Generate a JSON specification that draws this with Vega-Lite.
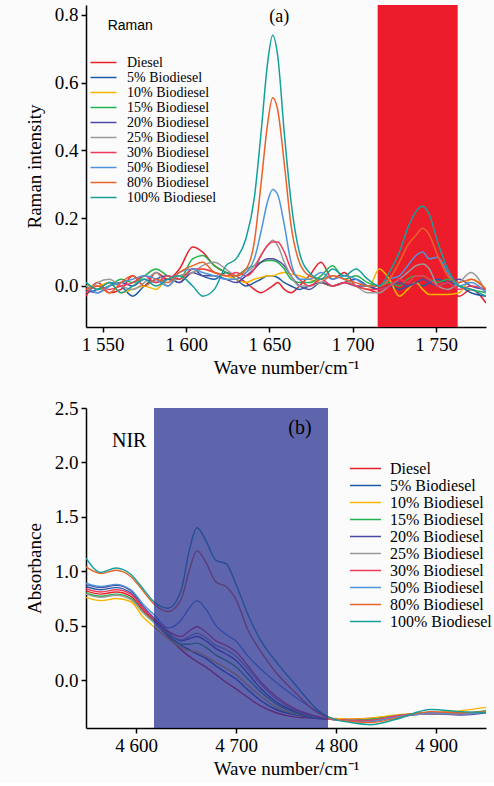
{
"$schema": "https://vega.github.io/schema/vega-lite/v6.json",
"background": "#fbfbfb",
"padding": {"left": 25, "top": 5, "right": 5, "bottom": 5},
"spacing": 22,
"config": {
  "view": {"stroke": null},
  "font": "Liberation Serif",
  "axis": {"domainColor": "#000", "domainWidth": 1.5, "tickColor": "#000", "tickWidth": 1.5, "tickSize": 5, "labelFont": "Liberation Serif", "labelFontSize": 19, "labelColor": "#000", "titleFont": "Liberation Serif", "titleFontSize": 19, "titleFontWeight": "normal", "titleColor": "#000", "grid": false, "labelPadding": 3, "zindex": 1}
},
"datasets": {
"ra": [
{"s":"D","x":1540,"y":-0.03},{"s":"D","x":1547,"y":0.01},{"s":"D","x":1554,"y":-0.02},{"s":"D","x":1561,"y":-0.01},{"s":"D","x":1568,"y":0.03},{"s":"D","x":1575,"y":0.0},{"s":"D","x":1582,"y":0.04},{"s":"D","x":1589,"y":0.02},{"s":"D","x":1596,"y":0.05},{"s":"D","x":1604,"y":0.115},{"s":"D","x":1610,"y":0.10},{"s":"D","x":1617,"y":0.06},{"s":"D","x":1624,"y":0.04},{"s":"D","x":1630,"y":0.03},{"s":"D","x":1636,"y":0.01},{"s":"D","x":1641,"y":-0.01},{"s":"D","x":1645,"y":-0.02},{"s":"D","x":1649,"y":-0.01},{"s":"D","x":1652,"y":0.0},{"s":"D","x":1655,"y":0.01},{"s":"D","x":1659,"y":-0.01},{"s":"D","x":1663,"y":-0.02},{"s":"D","x":1668,"y":0.0},{"s":"D","x":1674,"y":0.03},{"s":"D","x":1681,"y":0.07},{"s":"D","x":1688,"y":0.02},{"s":"D","x":1695,"y":0.04},{"s":"D","x":1702,"y":0.0},{"s":"D","x":1709,"y":-0.01},{"s":"D","x":1716,"y":-0.02},{"s":"D","x":1722,"y":0.0},{"s":"D","x":1728,"y":0.01},{"s":"D","x":1733,"y":-0.01},{"s":"D","x":1738,"y":0.0},{"s":"D","x":1742,"y":0.01},{"s":"D","x":1746,"y":0.0},{"s":"D","x":1751,"y":-0.01},{"s":"D","x":1757,"y":-0.02},{"s":"D","x":1764,"y":-0.03},{"s":"D","x":1771,"y":-0.01},{"s":"D","x":1780,"y":-0.05},
{"s":"5","x":1540,"y":-0.02},{"s":"5","x":1547,"y":-0.01},{"s":"5","x":1554,"y":0.01},{"s":"5","x":1561,"y":0.0},{"s":"5","x":1568,"y":-0.03},{"s":"5","x":1575,"y":0.0},{"s":"5","x":1582,"y":0.02},{"s":"5","x":1589,"y":0.03},{"s":"5","x":1596,"y":0.01},{"s":"5","x":1604,"y":0.05},{"s":"5","x":1610,"y":0.03},{"s":"5","x":1617,"y":0.02},{"s":"5","x":1624,"y":0.04},{"s":"5","x":1630,"y":0.02},{"s":"5","x":1636,"y":0.0},{"s":"5","x":1641,"y":0.01},{"s":"5","x":1645,"y":0.02},{"s":"5","x":1649,"y":0.03},{"s":"5","x":1652,"y":0.03},{"s":"5","x":1655,"y":0.025},{"s":"5","x":1659,"y":0.01},{"s":"5","x":1663,"y":0.0},{"s":"5","x":1668,"y":-0.01},{"s":"5","x":1674,"y":0.0},{"s":"5","x":1681,"y":0.01},{"s":"5","x":1688,"y":0.0},{"s":"5","x":1695,"y":0.01},{"s":"5","x":1702,"y":0.02},{"s":"5","x":1709,"y":0.0},{"s":"5","x":1716,"y":-0.01},{"s":"5","x":1722,"y":0.0},{"s":"5","x":1728,"y":-0.01},{"s":"5","x":1733,"y":0.0},{"s":"5","x":1738,"y":0.01},{"s":"5","x":1742,"y":0.0},{"s":"5","x":1746,"y":0.01},{"s":"5","x":1751,"y":0.02},{"s":"5","x":1757,"y":0.01},{"s":"5","x":1764,"y":0.0},{"s":"5","x":1771,"y":-0.02},{"s":"5","x":1780,"y":-0.03},
{"s":"10","x":1540,"y":0.0},{"s":"10","x":1547,"y":0.0},{"s":"10","x":1554,"y":0.01},{"s":"10","x":1561,"y":-0.02},{"s":"10","x":1568,"y":-0.01},{"s":"10","x":1575,"y":0.0},{"s":"10","x":1582,"y":-0.01},{"s":"10","x":1589,"y":0.02},{"s":"10","x":1596,"y":0.02},{"s":"10","x":1604,"y":0.04},{"s":"10","x":1610,"y":0.05},{"s":"10","x":1617,"y":0.04},{"s":"10","x":1624,"y":0.03},{"s":"10","x":1630,"y":0.02},{"s":"10","x":1636,"y":0.01},{"s":"10","x":1641,"y":0.02},{"s":"10","x":1645,"y":0.025},{"s":"10","x":1649,"y":0.03},{"s":"10","x":1652,"y":0.03},{"s":"10","x":1655,"y":0.035},{"s":"10","x":1659,"y":0.04},{"s":"10","x":1663,"y":0.035},{"s":"10","x":1668,"y":0.03},{"s":"10","x":1674,"y":0.02},{"s":"10","x":1681,"y":0.01},{"s":"10","x":1688,"y":0.0},{"s":"10","x":1695,"y":0.01},{"s":"10","x":1702,"y":0.0},{"s":"10","x":1709,"y":-0.01},{"s":"10","x":1716,"y":0.05},{"s":"10","x":1722,"y":0.02},{"s":"10","x":1728,"y":-0.03},{"s":"10","x":1733,"y":-0.01},{"s":"10","x":1738,"y":0.01},{"s":"10","x":1742,"y":-0.01},{"s":"10","x":1746,"y":-0.025},{"s":"10","x":1751,"y":-0.025},{"s":"10","x":1757,"y":-0.025},{"s":"10","x":1764,"y":-0.02},{"s":"10","x":1771,"y":0.02},{"s":"10","x":1780,"y":-0.01},
{"s":"15","x":1540,"y":0.01},{"s":"15","x":1547,"y":-0.01},{"s":"15","x":1554,"y":0.0},{"s":"15","x":1561,"y":0.02},{"s":"15","x":1568,"y":0.01},{"s":"15","x":1575,"y":0.03},{"s":"15","x":1582,"y":0.05},{"s":"15","x":1589,"y":0.03},{"s":"15","x":1596,"y":0.02},{"s":"15","x":1604,"y":0.08},{"s":"15","x":1610,"y":0.09},{"s":"15","x":1617,"y":0.06},{"s":"15","x":1624,"y":0.04},{"s":"15","x":1630,"y":0.03},{"s":"15","x":1636,"y":0.05},{"s":"15","x":1641,"y":0.06},{"s":"15","x":1645,"y":0.07},{"s":"15","x":1649,"y":0.075},{"s":"15","x":1652,"y":0.075},{"s":"15","x":1655,"y":0.07},{"s":"15","x":1659,"y":0.05},{"s":"15","x":1663,"y":0.02},{"s":"15","x":1668,"y":0.01},{"s":"15","x":1674,"y":0.01},{"s":"15","x":1681,"y":0.03},{"s":"15","x":1688,"y":0.06},{"s":"15","x":1695,"y":0.02},{"s":"15","x":1702,"y":0.03},{"s":"15","x":1709,"y":0.01},{"s":"15","x":1716,"y":0.0},{"s":"15","x":1722,"y":0.01},{"s":"15","x":1728,"y":0.0},{"s":"15","x":1733,"y":0.02},{"s":"15","x":1738,"y":0.03},{"s":"15","x":1742,"y":0.03},{"s":"15","x":1746,"y":0.02},{"s":"15","x":1751,"y":0.01},{"s":"15","x":1757,"y":0.02},{"s":"15","x":1764,"y":0.0},{"s":"15","x":1771,"y":-0.01},{"s":"15","x":1780,"y":-0.02},
{"s":"20","x":1540,"y":-0.01},{"s":"20","x":1547,"y":-0.02},{"s":"20","x":1554,"y":0.0},{"s":"20","x":1561,"y":0.01},{"s":"20","x":1568,"y":0.0},{"s":"20","x":1575,"y":0.02},{"s":"20","x":1582,"y":0.01},{"s":"20","x":1589,"y":0.02},{"s":"20","x":1596,"y":0.01},{"s":"20","x":1604,"y":0.04},{"s":"20","x":1610,"y":0.03},{"s":"20","x":1617,"y":0.03},{"s":"20","x":1624,"y":0.02},{"s":"20","x":1630,"y":0.01},{"s":"20","x":1636,"y":0.03},{"s":"20","x":1641,"y":0.05},{"s":"20","x":1645,"y":0.07},{"s":"20","x":1649,"y":0.08},{"s":"20","x":1652,"y":0.08},{"s":"20","x":1655,"y":0.075},{"s":"20","x":1659,"y":0.06},{"s":"20","x":1663,"y":0.03},{"s":"20","x":1668,"y":0.0},{"s":"20","x":1674,"y":-0.01},{"s":"20","x":1681,"y":0.01},{"s":"20","x":1688,"y":0.0},{"s":"20","x":1695,"y":0.01},{"s":"20","x":1702,"y":0.0},{"s":"20","x":1709,"y":0.0},{"s":"20","x":1716,"y":-0.01},{"s":"20","x":1722,"y":0.0},{"s":"20","x":1728,"y":0.01},{"s":"20","x":1733,"y":0.0},{"s":"20","x":1738,"y":0.01},{"s":"20","x":1742,"y":0.02},{"s":"20","x":1746,"y":0.01},{"s":"20","x":1751,"y":0.0},{"s":"20","x":1757,"y":0.01},{"s":"20","x":1764,"y":0.02},{"s":"20","x":1771,"y":0.0},{"s":"20","x":1780,"y":-0.01},
{"s":"25","x":1540,"y":-0.02},{"s":"25","x":1547,"y":0.01},{"s":"25","x":1554,"y":0.02},{"s":"25","x":1561,"y":0.0},{"s":"25","x":1568,"y":-0.01},{"s":"25","x":1575,"y":0.01},{"s":"25","x":1582,"y":0.04},{"s":"25","x":1589,"y":0.0},{"s":"25","x":1596,"y":0.03},{"s":"25","x":1604,"y":0.04},{"s":"25","x":1610,"y":0.06},{"s":"25","x":1617,"y":0.07},{"s":"25","x":1624,"y":0.05},{"s":"25","x":1630,"y":0.03},{"s":"25","x":1636,"y":0.04},{"s":"25","x":1641,"y":0.06},{"s":"25","x":1645,"y":0.09},{"s":"25","x":1649,"y":0.12},{"s":"25","x":1652,"y":0.135},{"s":"25","x":1655,"y":0.12},{"s":"25","x":1659,"y":0.07},{"s":"25","x":1663,"y":0.03},{"s":"25","x":1668,"y":0.0},{"s":"25","x":1674,"y":0.0},{"s":"25","x":1681,"y":0.01},{"s":"25","x":1688,"y":0.03},{"s":"25","x":1695,"y":0.02},{"s":"25","x":1702,"y":0.0},{"s":"25","x":1709,"y":-0.02},{"s":"25","x":1716,"y":-0.02},{"s":"25","x":1722,"y":0.0},{"s":"25","x":1728,"y":0.02},{"s":"25","x":1733,"y":0.04},{"s":"25","x":1738,"y":0.06},{"s":"25","x":1742,"y":0.065},{"s":"25","x":1746,"y":0.05},{"s":"25","x":1751,"y":0.0},{"s":"25","x":1757,"y":-0.01},{"s":"25","x":1764,"y":0.01},{"s":"25","x":1771,"y":0.04},{"s":"25","x":1780,"y":-0.02},
{"s":"30","x":1540,"y":-0.02},{"s":"30","x":1547,"y":0.0},{"s":"30","x":1554,"y":-0.01},{"s":"30","x":1561,"y":0.0},{"s":"30","x":1568,"y":0.01},{"s":"30","x":1575,"y":0.03},{"s":"30","x":1582,"y":0.01},{"s":"30","x":1589,"y":0.03},{"s":"30","x":1596,"y":0.02},{"s":"30","x":1604,"y":0.05},{"s":"30","x":1610,"y":0.05},{"s":"30","x":1617,"y":0.04},{"s":"30","x":1624,"y":0.03},{"s":"30","x":1630,"y":0.04},{"s":"30","x":1636,"y":0.03},{"s":"30","x":1641,"y":0.05},{"s":"30","x":1645,"y":0.09},{"s":"30","x":1649,"y":0.12},{"s":"30","x":1652,"y":0.13},{"s":"30","x":1655,"y":0.13},{"s":"30","x":1659,"y":0.10},{"s":"30","x":1663,"y":0.05},{"s":"30","x":1668,"y":0.02},{"s":"30","x":1674,"y":0.0},{"s":"30","x":1681,"y":0.02},{"s":"30","x":1688,"y":0.0},{"s":"30","x":1695,"y":0.01},{"s":"30","x":1702,"y":0.0},{"s":"30","x":1709,"y":-0.01},{"s":"30","x":1716,"y":-0.01},{"s":"30","x":1722,"y":0.0},{"s":"30","x":1728,"y":0.02},{"s":"30","x":1733,"y":0.01},{"s":"30","x":1738,"y":0.03},{"s":"30","x":1742,"y":0.03},{"s":"30","x":1746,"y":0.02},{"s":"30","x":1751,"y":0.0},{"s":"30","x":1757,"y":0.01},{"s":"30","x":1764,"y":-0.01},{"s":"30","x":1771,"y":0.0},{"s":"30","x":1780,"y":-0.01},
{"s":"50","x":1540,"y":0.0},{"s":"50","x":1547,"y":-0.02},{"s":"50","x":1554,"y":0.0},{"s":"50","x":1561,"y":0.01},{"s":"50","x":1568,"y":0.02},{"s":"50","x":1575,"y":0.03},{"s":"50","x":1582,"y":0.02},{"s":"50","x":1589,"y":0.0},{"s":"50","x":1596,"y":0.04},{"s":"50","x":1604,"y":0.05},{"s":"50","x":1610,"y":0.04},{"s":"50","x":1617,"y":0.03},{"s":"50","x":1624,"y":0.02},{"s":"50","x":1630,"y":0.02},{"s":"50","x":1636,"y":0.04},{"s":"50","x":1641,"y":0.08},{"s":"50","x":1645,"y":0.16},{"s":"50","x":1649,"y":0.25},{"s":"50","x":1652,"y":0.285},{"s":"50","x":1655,"y":0.27},{"s":"50","x":1659,"y":0.18},{"s":"50","x":1663,"y":0.07},{"s":"50","x":1668,"y":0.02},{"s":"50","x":1674,"y":0.02},{"s":"50","x":1681,"y":0.04},{"s":"50","x":1688,"y":0.02},{"s":"50","x":1695,"y":0.03},{"s":"50","x":1702,"y":0.02},{"s":"50","x":1709,"y":0.0},{"s":"50","x":1716,"y":0.0},{"s":"50","x":1722,"y":0.02},{"s":"50","x":1728,"y":0.03},{"s":"50","x":1733,"y":0.06},{"s":"50","x":1738,"y":0.09},{"s":"50","x":1742,"y":0.10},{"s":"50","x":1746,"y":0.08},{"s":"50","x":1751,"y":0.085},{"s":"50","x":1757,"y":0.04},{"s":"50","x":1764,"y":0.0},{"s":"50","x":1771,"y":0.01},{"s":"50","x":1780,"y":-0.02},
{"s":"80","x":1540,"y":-0.01},{"s":"80","x":1547,"y":0.0},{"s":"80","x":1554,"y":-0.02},{"s":"80","x":1561,"y":0.01},{"s":"80","x":1568,"y":0.03},{"s":"80","x":1575,"y":0.0},{"s":"80","x":1582,"y":0.02},{"s":"80","x":1589,"y":0.01},{"s":"80","x":1596,"y":0.04},{"s":"80","x":1604,"y":0.06},{"s":"80","x":1610,"y":0.07},{"s":"80","x":1617,"y":0.04},{"s":"80","x":1624,"y":0.03},{"s":"80","x":1630,"y":0.03},{"s":"80","x":1636,"y":0.05},{"s":"80","x":1641,"y":0.13},{"s":"80","x":1645,"y":0.30},{"s":"80","x":1649,"y":0.48},{"s":"80","x":1652,"y":0.555},{"s":"80","x":1655,"y":0.52},{"s":"80","x":1659,"y":0.36},{"s":"80","x":1663,"y":0.18},{"s":"80","x":1668,"y":0.07},{"s":"80","x":1674,"y":0.03},{"s":"80","x":1681,"y":0.02},{"s":"80","x":1688,"y":0.03},{"s":"80","x":1695,"y":0.02},{"s":"80","x":1702,"y":0.01},{"s":"80","x":1709,"y":0.0},{"s":"80","x":1716,"y":0.0},{"s":"80","x":1722,"y":0.02},{"s":"80","x":1728,"y":0.07},{"s":"80","x":1733,"y":0.12},{"s":"80","x":1738,"y":0.15},{"s":"80","x":1742,"y":0.17},{"s":"80","x":1746,"y":0.15},{"s":"80","x":1751,"y":0.09},{"s":"80","x":1757,"y":0.03},{"s":"80","x":1764,"y":0.01},{"s":"80","x":1771,"y":0.02},{"s":"80","x":1780,"y":-0.01},
{"s":"100","x":1540,"y":0.01},{"s":"100","x":1547,"y":-0.01},{"s":"100","x":1554,"y":0.01},{"s":"100","x":1561,"y":-0.02},{"s":"100","x":1568,"y":0.0},{"s":"100","x":1575,"y":0.02},{"s":"100","x":1582,"y":0.0},{"s":"100","x":1589,"y":0.02},{"s":"100","x":1596,"y":0.03},{"s":"100","x":1604,"y":0.0},{"s":"100","x":1610,"y":-0.03},{"s":"100","x":1617,"y":-0.01},{"s":"100","x":1624,"y":0.06},{"s":"100","x":1630,"y":0.08},{"s":"100","x":1636,"y":0.14},{"s":"100","x":1641,"y":0.26},{"s":"100","x":1645,"y":0.45},{"s":"100","x":1649,"y":0.66},{"s":"100","x":1652,"y":0.74},{"s":"100","x":1655,"y":0.68},{"s":"100","x":1659,"y":0.45},{"s":"100","x":1663,"y":0.25},{"s":"100","x":1668,"y":0.10},{"s":"100","x":1674,"y":0.04},{"s":"100","x":1681,"y":0.02},{"s":"100","x":1688,"y":0.05},{"s":"100","x":1695,"y":0.03},{"s":"100","x":1702,"y":0.05},{"s":"100","x":1709,"y":0.02},{"s":"100","x":1716,"y":0.0},{"s":"100","x":1722,"y":0.04},{"s":"100","x":1728,"y":0.10},{"s":"100","x":1733,"y":0.17},{"s":"100","x":1738,"y":0.22},{"s":"100","x":1742,"y":0.235},{"s":"100","x":1746,"y":0.21},{"s":"100","x":1751,"y":0.13},{"s":"100","x":1757,"y":0.05},{"s":"100","x":1764,"y":0.0},{"s":"100","x":1771,"y":-0.01},{"s":"100","x":1780,"y":-0.03}
],
"ab": [
{"s":"D","x":4550,"y":0.82},{"s":"D","x":4565,"y":0.79},{"s":"D","x":4580,"y":0.81},{"s":"D","x":4595,"y":0.77},{"s":"D","x":4607,"y":0.64},{"s":"D","x":4618,"y":0.54},{"s":"D","x":4632,"y":0.40},{"s":"D","x":4645,"y":0.28},{"s":"D","x":4653,"y":0.22},{"s":"D","x":4661,"y":0.17},{"s":"D","x":4670,"y":0.12},{"s":"D","x":4680,"y":0.05},{"s":"D","x":4690,"y":-0.02},{"s":"D","x":4700,"y":-0.08},{"s":"D","x":4712,"y":-0.16},{"s":"D","x":4725,"y":-0.24},{"s":"D","x":4740,"y":-0.30},{"s":"D","x":4760,"y":-0.34},{"s":"D","x":4780,"y":-0.35},{"s":"D","x":4795,"y":-0.36},{"s":"D","x":4815,"y":-0.36},{"s":"D","x":4835,"y":-0.35},{"s":"D","x":4860,"y":-0.33},{"s":"D","x":4895,"y":-0.31},{"s":"D","x":4925,"y":-0.31},{"s":"D","x":4950,"y":-0.29},
{"s":"5","x":4550,"y":0.86},{"s":"5","x":4565,"y":0.83},{"s":"5","x":4580,"y":0.85},{"s":"5","x":4595,"y":0.80},{"s":"5","x":4607,"y":0.66},{"s":"5","x":4618,"y":0.55},{"s":"5","x":4632,"y":0.42},{"s":"5","x":4645,"y":0.32},{"s":"5","x":4653,"y":0.28},{"s":"5","x":4661,"y":0.24},{"s":"5","x":4670,"y":0.20},{"s":"5","x":4680,"y":0.13},{"s":"5","x":4690,"y":0.07},{"s":"5","x":4700,"y":0.01},{"s":"5","x":4712,"y":-0.09},{"s":"5","x":4725,"y":-0.19},{"s":"5","x":4740,"y":-0.27},{"s":"5","x":4760,"y":-0.32},{"s":"5","x":4780,"y":-0.35},{"s":"5","x":4795,"y":-0.36},{"s":"5","x":4815,"y":-0.37},{"s":"5","x":4835,"y":-0.36},{"s":"5","x":4860,"y":-0.33},{"s":"5","x":4895,"y":-0.31},{"s":"5","x":4925,"y":-0.31},{"s":"5","x":4950,"y":-0.29},
{"s":"10","x":4550,"y":0.76},{"s":"10","x":4565,"y":0.73},{"s":"10","x":4580,"y":0.75},{"s":"10","x":4595,"y":0.72},{"s":"10","x":4607,"y":0.58},{"s":"10","x":4618,"y":0.49},{"s":"10","x":4632,"y":0.38},{"s":"10","x":4645,"y":0.30},{"s":"10","x":4653,"y":0.27},{"s":"10","x":4661,"y":0.26},{"s":"10","x":4670,"y":0.22},{"s":"10","x":4680,"y":0.16},{"s":"10","x":4690,"y":0.11},{"s":"10","x":4700,"y":0.05},{"s":"10","x":4712,"y":-0.05},{"s":"10","x":4725,"y":-0.15},{"s":"10","x":4740,"y":-0.25},{"s":"10","x":4760,"y":-0.31},{"s":"10","x":4780,"y":-0.34},{"s":"10","x":4795,"y":-0.35},{"s":"10","x":4815,"y":-0.36},{"s":"10","x":4835,"y":-0.35},{"s":"10","x":4860,"y":-0.32},{"s":"10","x":4895,"y":-0.30},{"s":"10","x":4925,"y":-0.28},{"s":"10","x":4950,"y":-0.25},
{"s":"15","x":4550,"y":0.80},{"s":"15","x":4565,"y":0.77},{"s":"15","x":4580,"y":0.79},{"s":"15","x":4595,"y":0.75},{"s":"15","x":4607,"y":0.62},{"s":"15","x":4618,"y":0.53},{"s":"15","x":4632,"y":0.41},{"s":"15","x":4645,"y":0.33},{"s":"15","x":4653,"y":0.33},{"s":"15","x":4661,"y":0.34},{"s":"15","x":4670,"y":0.30},{"s":"15","x":4680,"y":0.23},{"s":"15","x":4690,"y":0.18},{"s":"15","x":4700,"y":0.12},{"s":"15","x":4712,"y":0.01},{"s":"15","x":4725,"y":-0.11},{"s":"15","x":4740,"y":-0.22},{"s":"15","x":4760,"y":-0.30},{"s":"15","x":4780,"y":-0.34},{"s":"15","x":4795,"y":-0.36},{"s":"15","x":4815,"y":-0.37},{"s":"15","x":4835,"y":-0.36},{"s":"15","x":4860,"y":-0.33},{"s":"15","x":4895,"y":-0.30},{"s":"15","x":4925,"y":-0.30},{"s":"15","x":4950,"y":-0.28},
{"s":"20","x":4550,"y":0.88},{"s":"20","x":4565,"y":0.85},{"s":"20","x":4580,"y":0.87},{"s":"20","x":4595,"y":0.82},{"s":"20","x":4607,"y":0.68},{"s":"20","x":4618,"y":0.57},{"s":"20","x":4632,"y":0.44},{"s":"20","x":4645,"y":0.36},{"s":"20","x":4653,"y":0.38},{"s":"20","x":4661,"y":0.40},{"s":"20","x":4670,"y":0.36},{"s":"20","x":4680,"y":0.29},{"s":"20","x":4690,"y":0.24},{"s":"20","x":4700,"y":0.18},{"s":"20","x":4712,"y":0.06},{"s":"20","x":4725,"y":-0.08},{"s":"20","x":4740,"y":-0.20},{"s":"20","x":4760,"y":-0.29},{"s":"20","x":4780,"y":-0.34},{"s":"20","x":4795,"y":-0.36},{"s":"20","x":4815,"y":-0.37},{"s":"20","x":4835,"y":-0.37},{"s":"20","x":4860,"y":-0.34},{"s":"20","x":4895,"y":-0.31},{"s":"20","x":4925,"y":-0.32},{"s":"20","x":4950,"y":-0.30},
{"s":"25","x":4550,"y":0.79},{"s":"25","x":4565,"y":0.76},{"s":"25","x":4580,"y":0.78},{"s":"25","x":4595,"y":0.74},{"s":"25","x":4607,"y":0.62},{"s":"25","x":4618,"y":0.53},{"s":"25","x":4632,"y":0.43},{"s":"25","x":4645,"y":0.37},{"s":"25","x":4653,"y":0.40},{"s":"25","x":4661,"y":0.43},{"s":"25","x":4670,"y":0.39},{"s":"25","x":4680,"y":0.32},{"s":"25","x":4690,"y":0.28},{"s":"25","x":4700,"y":0.22},{"s":"25","x":4712,"y":0.10},{"s":"25","x":4725,"y":-0.04},{"s":"25","x":4740,"y":-0.17},{"s":"25","x":4760,"y":-0.28},{"s":"25","x":4780,"y":-0.34},{"s":"25","x":4795,"y":-0.36},{"s":"25","x":4815,"y":-0.37},{"s":"25","x":4835,"y":-0.37},{"s":"25","x":4860,"y":-0.33},{"s":"25","x":4895,"y":-0.31},{"s":"25","x":4925,"y":-0.31},{"s":"25","x":4950,"y":-0.29},
{"s":"30","x":4550,"y":0.84},{"s":"30","x":4565,"y":0.81},{"s":"30","x":4580,"y":0.83},{"s":"30","x":4595,"y":0.79},{"s":"30","x":4607,"y":0.66},{"s":"30","x":4618,"y":0.56},{"s":"30","x":4632,"y":0.45},{"s":"30","x":4645,"y":0.40},{"s":"30","x":4653,"y":0.45},{"s":"30","x":4661,"y":0.49},{"s":"30","x":4670,"y":0.44},{"s":"30","x":4680,"y":0.36},{"s":"30","x":4690,"y":0.32},{"s":"30","x":4700,"y":0.26},{"s":"30","x":4712,"y":0.13},{"s":"30","x":4725,"y":-0.02},{"s":"30","x":4740,"y":-0.15},{"s":"30","x":4760,"y":-0.27},{"s":"30","x":4780,"y":-0.33},{"s":"30","x":4795,"y":-0.36},{"s":"30","x":4815,"y":-0.37},{"s":"30","x":4835,"y":-0.37},{"s":"30","x":4860,"y":-0.33},{"s":"30","x":4895,"y":-0.30},{"s":"30","x":4925,"y":-0.31},{"s":"30","x":4950,"y":-0.29},
{"s":"50","x":4550,"y":0.89},{"s":"50","x":4565,"y":0.86},{"s":"50","x":4580,"y":0.88},{"s":"50","x":4595,"y":0.83},{"s":"50","x":4607,"y":0.70},{"s":"50","x":4618,"y":0.60},{"s":"50","x":4632,"y":0.48},{"s":"50","x":4645,"y":0.55},{"s":"50","x":4653,"y":0.66},{"s":"50","x":4661,"y":0.73},{"s":"50","x":4670,"y":0.65},{"s":"50","x":4680,"y":0.50},{"s":"50","x":4690,"y":0.42},{"s":"50","x":4700,"y":0.36},{"s":"50","x":4712,"y":0.22},{"s":"50","x":4725,"y":0.10},{"s":"50","x":4740,"y":-0.02},{"s":"50","x":4760,"y":-0.16},{"s":"50","x":4780,"y":-0.28},{"s":"50","x":4795,"y":-0.35},{"s":"50","x":4815,"y":-0.38},{"s":"50","x":4835,"y":-0.38},{"s":"50","x":4860,"y":-0.34},{"s":"50","x":4895,"y":-0.30},{"s":"50","x":4925,"y":-0.31},{"s":"50","x":4950,"y":-0.29},
{"s":"80","x":4550,"y":1.04},{"s":"80","x":4565,"y":0.98},{"s":"80","x":4580,"y":1.01},{"s":"80","x":4595,"y":0.95},{"s":"80","x":4607,"y":0.82},{"s":"80","x":4618,"y":0.70},{"s":"80","x":4632,"y":0.63},{"s":"80","x":4645,"y":0.74},{"s":"80","x":4653,"y":1.00},{"s":"80","x":4661,"y":1.19},{"s":"80","x":4670,"y":1.08},{"s":"80","x":4680,"y":0.90},{"s":"80","x":4690,"y":0.86},{"s":"80","x":4700,"y":0.74},{"s":"80","x":4712,"y":0.46},{"s":"80","x":4725,"y":0.26},{"s":"80","x":4740,"y":0.07},{"s":"80","x":4760,"y":-0.12},{"s":"80","x":4780,"y":-0.29},{"s":"80","x":4795,"y":-0.35},{"s":"80","x":4815,"y":-0.38},{"s":"80","x":4835,"y":-0.39},{"s":"80","x":4860,"y":-0.35},{"s":"80","x":4895,"y":-0.29},{"s":"80","x":4925,"y":-0.30},{"s":"80","x":4950,"y":-0.29},
{"s":"100","x":4550,"y":1.12},{"s":"100","x":4565,"y":0.99},{"s":"100","x":4580,"y":1.03},{"s":"100","x":4595,"y":0.97},{"s":"100","x":4607,"y":0.84},{"s":"100","x":4618,"y":0.72},{"s":"100","x":4632,"y":0.66},{"s":"100","x":4645,"y":0.82},{"s":"100","x":4653,"y":1.18},{"s":"100","x":4661,"y":1.40},{"s":"100","x":4670,"y":1.28},{"s":"100","x":4680,"y":1.10},{"s":"100","x":4690,"y":1.07},{"s":"100","x":4700,"y":0.88},{"s":"100","x":4712,"y":0.60},{"s":"100","x":4725,"y":0.36},{"s":"100","x":4740,"y":0.17},{"s":"100","x":4760,"y":-0.05},{"s":"100","x":4780,"y":-0.26},{"s":"100","x":4795,"y":-0.35},{"s":"100","x":4815,"y":-0.39},{"s":"100","x":4835,"y":-0.41},{"s":"100","x":4860,"y":-0.36},{"s":"100","x":4895,"y":-0.27},{"s":"100","x":4925,"y":-0.29},{"s":"100","x":4950,"y":-0.30}
]
},
"vconcat": [
{
  "width": 400,
  "height": 322,
  "encoding": {
    "x": {"field": "x", "type": "quantitative", "scale": {"domain": [1540, 1780], "nice": false, "zero": false}, "axis": {"values": [1550, 1600, 1650, 1700, 1750], "labelExpr": "replace(format(datum.value, ','), ',', ' ')", "titlePadding": 4}, "title": "Wave number/cm⁻¹"}
  },
  "layer": [
    {"data": {"values": [{"x": 1715, "x2": 1763}]}, "mark": {"type": "rect", "color": "#ec1c2b"}, "encoding": {"x2": {"field": "x2"}}},
    {"data": {"name": "ra"}, "mark": {"type": "line", "interpolate": "monotone", "strokeWidth": 1.5, "clip": true},
     "encoding": {
       "y": {"field": "y", "type": "quantitative", "scale": {"domain": [-0.121, 0.829], "nice": false, "zero": false}, "axis": {"values": [0, 0.2, 0.4, 0.6, 0.8], "format": ".1f", "titlePadding": 10}, "title": "Raman intensity"},
       "color": {"field": "s", "type": "nominal",
         "scale": {"domain": ["D", "5", "10", "15", "20", "25", "30", "50", "80", "100"], "range": ["#e8202a", "#1f5aa6", "#f7b500", "#22b24c", "#4b4ba3", "#9a9a9a", "#f2385a", "#4d94db", "#e8622a", "#14a09a"]},
         "legend": {"orient": "none", "legendX": 10, "legendY": 50, "title": null, "symbolType": "M-2,0L2,0", "symbolSize": 169, "symbolStrokeWidth": 1.5, "symbolFillColor": "transparent", "labelFont": "Liberation Serif", "labelFontSize": 14, "labelColor": "#000", "rowPadding": 0, "labelLimit": 0, "labelOffset": 16, "labelExpr": "datum.label == 'D' ? 'Diesel' : datum.label + '% Biodiesel'"}}
     }},
    {"data": {"values": [{"x": 1656, "y": 0.794, "t": "(a)"}]}, "mark": {"type": "text", "fontSize": 18, "font": "Liberation Serif", "color": "#000"}, "encoding": {"y": {"field": "y", "type": "quantitative", "title": "Raman intensity"}, "text": {"field": "t"}}},
    {"data": {"values": [{"x": 1553, "y": 0.768, "t": "Raman"}]}, "mark": {"type": "text", "fontSize": 14, "font": "Liberation Sans", "align": "left", "color": "#000"}, "encoding": {"y": {"field": "y", "type": "quantitative", "title": "Raman intensity"}, "text": {"field": "t"}}}
  ]
},
{
  "width": 400,
  "height": 320,
  "encoding": {
    "x": {"field": "x", "type": "quantitative", "scale": {"domain": [4550, 4950], "nice": false, "zero": false}, "axis": {"values": [4600, 4700, 4800, 4900], "labelExpr": "replace(format(datum.value, ','), ',', ' ')", "titlePadding": 4}, "title": "Wave number/cm⁻¹"}
  },
  "layer": [
    {"data": {"name": "ab"}, "mark": {"type": "line", "interpolate": "monotone", "strokeWidth": 1.4, "clip": true},
     "encoding": {
       "y": {"field": "y", "type": "quantitative", "scale": {"domain": [-0.44, 2.5], "nice": false, "zero": false}, "axis": {"values": [0, 0.5, 1, 1.5, 2, 2.5], "format": ".1f", "titlePadding": 10}, "title": "Absorbance"},
       "color": {"field": "s", "type": "nominal",
         "scale": {"domain": ["D", "5", "10", "15", "20", "25", "30", "50", "80", "100"], "range": ["#e8202a", "#1f5aa6", "#f7b500", "#22b24c", "#4b4ba3", "#9a9a9a", "#f2385a", "#4d94db", "#e8622a", "#14a09a"]},
         "legend": {"orient": "none", "legendX": 271, "legendY": 52, "title": null, "symbolType": "M-2,0L2,0", "symbolSize": 240, "symbolStrokeWidth": 1.5, "symbolFillColor": "transparent", "labelFont": "Liberation Serif", "labelFontSize": 16, "labelColor": "#000", "rowPadding": 0, "labelLimit": 0, "labelOffset": 16, "labelExpr": "datum.label == 'D' ? 'Diesel' : datum.label + '% Biodiesel'"}}
     }},
    {"data": {"values": [{"x": 4618, "x2": 4792}]}, "mark": {"type": "rect", "color": "#293192", "opacity": 0.74}, "encoding": {"x2": {"field": "x2"}}},
    {"data": {"values": [{"x": 4764, "y": 2.32, "t": "(b)"}]}, "mark": {"type": "text", "fontSize": 20, "font": "Liberation Serif", "color": "#000"}, "encoding": {"y": {"field": "y", "type": "quantitative", "title": "Absorbance"}, "text": {"field": "t"}}},
    {"data": {"values": [{"x": 4576, "y": 2.2, "t": "NIR"}]}, "mark": {"type": "text", "fontSize": 20, "font": "Liberation Serif", "align": "left", "color": "#000"}, "encoding": {"y": {"field": "y", "type": "quantitative", "title": "Absorbance"}, "text": {"field": "t"}}}
  ]
}
],
"resolve": {"scale": {"color": "independent"}, "legend": {"color": "independent"}}
}
